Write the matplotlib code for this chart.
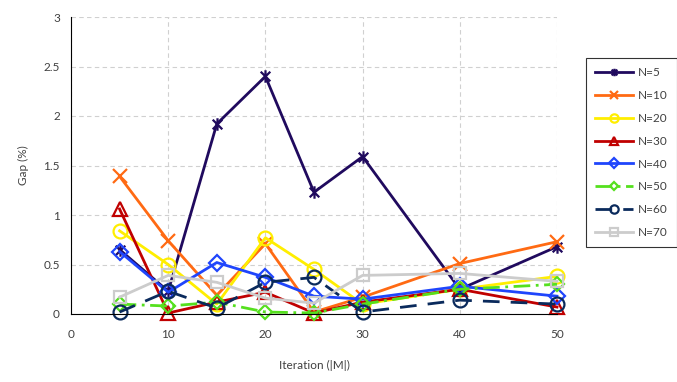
import matplotlib.pyplot as plt
from matplotlib.path import Path
from matplotlib.ticker import FuncFormatter

plt.rcParams['font.family'] = ['Lato', 'DejaVu Sans']

# datos
iteracion = [5, 10, 15, 20, 25, 30, 40, 50]
gap_n5 = [0.65, 0.23, 1.92, 2.40, 1.23, 1.59, 0.25, 0.68]
gap_n10 = [1.39, 0.74, 0.19, 0.71, 0.02, 0.17, 0.51, 0.73]
gap_n20 = [0.84, 0.50, 0.10, 0.77, 0.45, 0.10, 0.25, 0.38]
gap_n30 = [1.06, 0.01, 0.12, 0.22, 0.01, 0.12, 0.25, 0.07]
gap_n40 = [0.63, 0.22, 0.52, 0.37, 0.18, 0.15, 0.28, 0.18]
gap_n50 = [0.10, 0.08, 0.12, 0.02, 0.01, 0.10, 0.25, 0.30]
gap_n60 = [0.02, 0.23, 0.06, 0.32, 0.37, 0.02, 0.14, 0.10]
gap_n70 = [0.17, 0.39, 0.32, 0.16, 0.11, 0.39, 0.41, 0.33]
etiquetas = ['N=5', 'N=10', 'N=20', 'N=30', 'N=40', 'N=50', 'N=60', 'N=70']

# marcador tipo estrella de Excel (x con barra vertical)
estrella = Path([(-1, -1), (1, 1), (-1, 1), (1, -1), (0, -1.3), (0, 1.3)],
                [Path.MOVETO, Path.LINETO, Path.MOVETO, Path.LINETO, Path.MOVETO, Path.LINETO])

series = [gap_n5, gap_n10, gap_n20, gap_n30, gap_n40, gap_n50, gap_n60, gap_n70]
colores = ['#200a5e', '#ff6a13', '#ffee00', '#c00000', '#1f45fc', '#55e01e', '#0a2a5c', '#cccccc']
marcas = [estrella, 'x', 'o', '^', 'D', 'D', 'o', 's']
tamanos = [9, 10, 10, 10, 8, 7, 10, 9]
estilos = ['-', '-', '-', '-', '-', (0, (6, 2, 1, 2)), (0, (6, 4)), '-']

fig = plt.figure(figsize=(6.77, 3.82), dpi=100)
ax = fig.add_axes([71/677, 1-314/382, 486/677, 297/382])

for y, c, m, s, ls, lab in zip(series, colores, marcas, tamanos, estilos, etiquetas):
    ax.plot(iteracion, y, color=c, marker=m, markersize=s, linestyle=ls, linewidth=2,
            fillstyle='none', markeredgewidth=1.6, label=lab)

ax.set_xlim(0, 50)
ax.set_ylim(0, 3)
ax.set_xticks([0, 10, 20, 30, 40, 50])
ax.set_yticks([0, 0.5, 1, 1.5, 2, 2.5, 3])
ax.yaxis.set_major_formatter(FuncFormatter(lambda v, p: f'{v:g}'))
ax.tick_params(length=0, labelsize=8.5, labelcolor='#404040')
ax.tick_params(axis='x', pad=11)
ax.tick_params(axis='y', pad=8)
ax.grid(True, color='#d0d0d0', linestyle=(0, (4, 3)), linewidth=0.8)
ax.set_axisbelow(True)
ax.spines['top'].set_visible(False)
ax.spines['right'].set_visible(False)
ax.set_xlabel('Iteration (|M|)', fontsize=8.5, color='#404040', labelpad=14)
ax.set_ylabel('Gap (%)', fontsize=8.5, color='#404040', labelpad=10)
for l in ax.lines:
    l.set_clip_on(False)

leg = ax.legend(loc='upper left', bbox_to_anchor=(580/677, 1-52/382), bbox_transform=fig.transFigure,
                fontsize=8.5, frameon=True, fancybox=False, edgecolor='black', markerscale=0.6,
                handlelength=3.2, labelspacing=1.0, borderpad=0.8, handletextpad=0.4)
leg.get_frame().set_linewidth(0.8)
for t in leg.get_texts():
    t.set_color('#404040')

fig.savefig('out.png', dpi=100)
